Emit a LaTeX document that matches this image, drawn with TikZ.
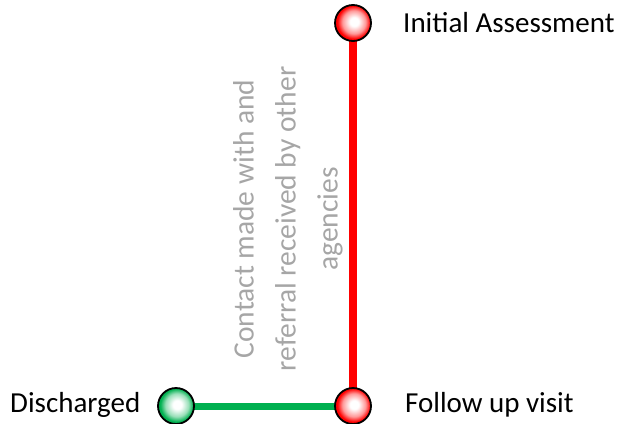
\documentclass[tikz,border=0pt]{standalone}
\usepackage{fontspec}
\setmainfont{Carlito}
\usetikzlibrary{backgrounds}
\definecolor{offgreen}{HTML}{00B050}
\pgfdeclareradialshading{redball}{\pgfpoint{2bp}{2bp}}{color(0bp)=(white); color(6bp)=(white); color(16bp)=(red!40!white); color(23bp)=(red); color(50bp)=(red)}
\pgfdeclareradialshading{greenball}{\pgfpoint{2bp}{2bp}}{color(0bp)=(white); color(6bp)=(white); color(16bp)=(offgreen!40!white); color(23bp)=(offgreen); color(50bp)=(offgreen)}
\begin{document}
\begin{tikzpicture}[x=1pt,y=-1pt,
  marker/.style={circle,draw=black,line width=1.8pt,minimum size=36pt,inner sep=0pt},
  redmark/.style={marker,shading=redball},
  greenmark/.style={marker,shading=greenball},
  lbl/.style={anchor=base west,font=\fontsize{29}{35}\selectfont,text=black,inner sep=0pt},
  note/.style={rotate=90,align=center,font=\fontsize{29.5}{42}\selectfont,text=gray!70,inner sep=0pt}]
\useasboundingbox (0,0) rectangle (621,423);
\node[redmark] (init) at (353,23) {};
\node[redmark] (follow) at (353,406) {};
\node[greenmark] (disch) at (176,406) {};
\begin{scope}[on background layer]
\draw[red,line width=8pt] (init.center) -- (follow.center);
\draw[offgreen,line width=7pt] (disch.center) -- (follow.center);
\end{scope}
\node[lbl] (tinit) at (403,32) {Initial Assessment};
\node[lbl] (tfollow) at (405,412) {Follow up visit};
\node[lbl] (tdisch) at (10,412) {Discharged};
\node[note] (tnote) at (288,219) {Contact made with and\\referral received by other\\agencies};
\end{tikzpicture}
\end{document}
